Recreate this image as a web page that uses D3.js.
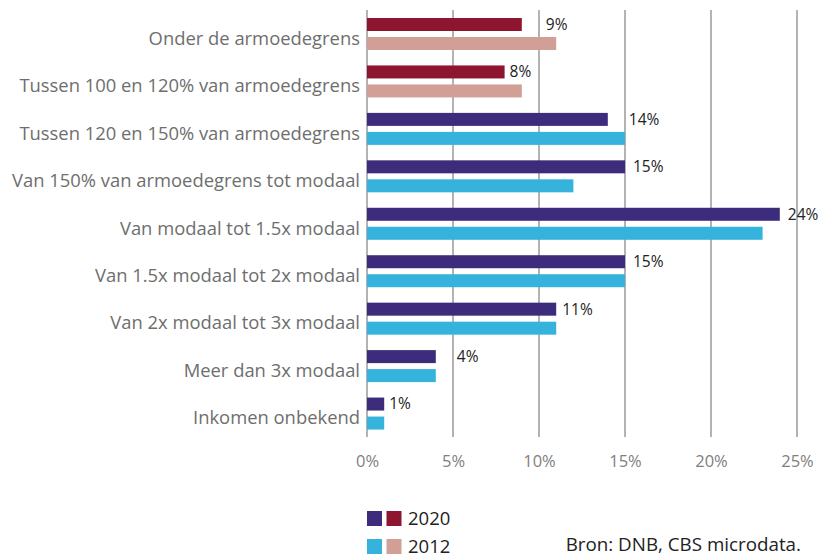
<!DOCTYPE html>
<html>
<head>
<meta charset="utf-8">
<script src="https://cdn.jsdelivr.net/npm/d3@7"></script>
<style>
  body { margin: 0; background: #fff; }
  text { font-family: "Open Sans", sans-serif; }
</style>
</head>
<body>
<svg id="chart" width="822" height="557"></svg>
<script>
// data
const categories = [
  "Onder de armoedegrens",
  "Tussen 100 en 120% van armoedegrens",
  "Tussen 120 en 150% van armoedegrens",
  "Van 150% van armoedegrens tot modaal",
  "Van modaal tot 1.5x modaal",
  "Van 1.5x modaal tot 2x modaal",
  "Van 2x modaal tot 3x modaal",
  "Meer dan 3x modaal",
  "Inkomen onbekend"
];
const values2020 = [9, 8, 14, 15, 24, 15, 11, 4, 1];
const values2012 = [11, 9, 15, 12, 23, 15, 11, 4, 1];
// first two rows are the poverty group (red tones)
const rowGroup = ["arm", "arm", "ink", "ink", "ink", "ink", "ink", "ink", "ink"];
const seriesNames = ["2020", "2012"];
const xTicks = [0, 5, 10, 15, 20, 25];
const source = "Bron: DNB, CBS microdata.";

// layout / style
const colors = {
  arm: { "2020": "#8e1530", "2012": "#d19f96" },
  ink: { "2020": "#3d2b7b", "2012": "#35b3dd" }
};
const labelDx = [24, 5, 21, 8, 8, 8, 6, 21, 5]; // hand nudges of the value labels

const svg = d3.select("#chart");

const x = d3.scaleLinear().domain([0, 25]).range([367, 797]);
const y = d3.scaleBand().domain(categories).range([10, 437]);
const sub = d3.scaleBand().domain(seriesNames).range([8, 40]).paddingInner(6 / 19);

// gridlines
svg.append("g")
  .selectAll("line")
  .data(xTicks)
  .join("line")
  .attr("x1", d => x(d)).attr("x2", d => x(d))
  .attr("y1", 10).attr("y2", 437)
  .attr("stroke", "#8a8a8a")
  .attr("stroke-width", 1.3);

// x axis labels
const xAxis = d3.axisBottom(x)
  .tickValues(xTicks)
  .tickFormat(d => d + "%")
  .tickSize(0)
  .tickPadding(0);

svg.append("g")
  .attr("transform", "translate(0,455)")
  .call(xAxis)
  .call(g => g.select(".domain").remove())
  .call(g => g.selectAll("text")
    .attr("font-size", 16.5)
    .attr("fill", "#808080")
    .attr("font-family", "'Open Sans', sans-serif"));

// category labels
svg.append("g")
  .selectAll("text")
  .data(categories)
  .join("text")
  .attr("x", 360)
  .attr("y", d => y(d) + y.bandwidth() / 2 + 11)
  .attr("text-anchor", "end")
  .attr("font-size", 18.4)
  .attr("fill", "#6e6e6e")
  .text(d => d);

// bars
const rows = categories.map((c, i) => ({
  cat: c, group: rowGroup[i], dx: labelDx[i],
  "2020": values2020[i], "2012": values2012[i]
}));

const row = svg.append("g")
  .selectAll("g")
  .data(rows)
  .join("g")
  .attr("transform", d => "translate(0," + y(d.cat) + ")");

row.selectAll("rect")
  .data(d => seriesNames.map(s => ({ s: s, v: d[s], group: d.group })))
  .join("rect")
  .attr("x", x(0))
  .attr("y", d => sub(d.s))
  .attr("width", d => x(d.v) - x(0))
  .attr("height", sub.bandwidth())
  .attr("fill", d => colors[d.group][d.s]);

// value labels (2020)
row.append("text")
  .attr("x", d => x(d["2020"]) + d.dx)
  .attr("y", d => sub("2020") + sub.bandwidth() / 2)
  .attr("dy", "0.35em")
  .attr("font-size", 15.5)
  .attr("fill", "#222")
  .text(d => d["2020"] + "%");

// legend
const legend = svg.append("g").attr("transform", "translate(367,511)");
seriesNames.forEach((s, i) => {
  const lg = legend.append("g").attr("transform", "translate(0," + (i * 28) + ")");
  ["ink", "arm"].forEach((grp, j) => {
    lg.append("rect")
      .attr("x", j * 19.5).attr("y", 0)
      .attr("width", 15).attr("height", 15)
      .attr("fill", colors[grp][s]);
  });
  lg.append("text")
    .attr("x", 41).attr("y", 13.5)
    .attr("font-size", 18.5)
    .attr("fill", "#222")
    .text(s);
});

svg.append("text")
  .attr("x", 801).attr("y", 551)
  .attr("text-anchor", "end")
  .attr("font-size", 18.8)
  .attr("fill", "#222")
  .text(source);
</script>
</body>
</html>
